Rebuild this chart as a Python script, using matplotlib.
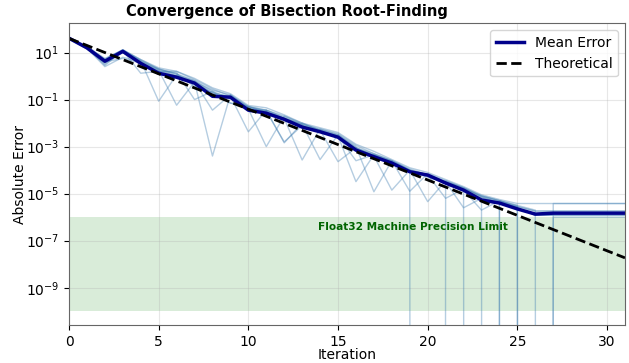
import numpy as np
import matplotlib.pyplot as plt

iters = np.arange(32)
Z = -np.inf  # error exactly zero in float32

# log10 of absolute error
mean_log = [1.61, 1.20, 0.63, 1.05, 0.54, 0.12, -0.05, -0.30, -0.86, -0.90, -1.45, -1.58,
            -1.84, -2.17, -2.37, -2.60, -3.15, -3.43, -3.70, -4.07, -4.21, -4.55, -4.85,
            -5.27, -5.40, -5.65, -5.87, -5.83, -5.83, -5.83, -5.83, -5.83]

runs_log = [
    [1.58, 1.15, 0.55, 1.00, 0.60, 0.30, 0.10, -0.45, -0.70, -1.15, -1.30, -1.50, -2.80, -2.10, -2.30, -2.55,
     -3.05, -3.40, -3.65, -4.00, Z, -4.50, -4.80, -5.15, -5.35, -5.60, -5.92, -5.92, -5.92, -5.92, -5.92, -5.92],
    [1.60, 1.22, 0.45, 1.08, 0.12, 0.20, 0.00, -0.25, -3.40, -0.80, -1.35, -1.55, -1.80, -2.05, -3.55, -2.50,
     -3.10, -3.35, -3.75, -4.05, -4.25, -4.50, -4.80, Z, -5.35, -5.55, -5.74, -5.74, -5.74, -5.74, -5.74, -5.74],
    [1.62, 1.20, 0.70, 1.12, 0.65, -1.07, 0.05, -0.20, -0.75, -0.85, -2.37, -1.45, -1.75, -2.10, -2.35, -2.55,
     -3.60, -3.35, -3.65, -4.05, -4.30, -4.55, -4.90, -5.20, Z, Z, Z, Z, Z, Z, Z, Z],
    [1.60, 1.25, 0.60, 0.75, 0.55, 0.25, -1.24, -0.25, -0.60, -0.80, -1.40, -3.00, -1.70, -2.00, -2.30, -3.64,
     -3.05, -3.40, -4.85, -4.00, -4.20, -4.50, -4.75, -5.15, -5.40, -5.55, Z, Z, Z, Z, Z, Z],
    [1.62, 1.18, 0.40, 0.80, 0.60, 0.20, 0.15, -1.00, -0.65, -0.95, -1.35, -1.50, -1.80, -3.57, -2.25, -2.50,
     -3.00, -4.92, -3.60, -4.00, -4.25, -4.50, -5.60, -5.20, -5.35, Z, Z, -5.42, -5.42, -5.42, -5.42, -5.42],
    [1.58, 1.22, 0.75, 1.10, 0.70, 0.30, 0.05, -0.25, -1.45, -0.80, -1.30, -1.45, -2.84, -2.00, -2.35, -2.55,
     -4.49, -3.35, -3.60, -4.00, -5.34, -4.45, -4.75, -5.10, -5.30, -5.50, -5.70, Z, Z, Z, Z, Z],
    [1.60, 1.20, 0.50, 1.05, 0.65, 0.30, 0.10, -0.20, -0.65, -1.15, -1.30, -1.55, -1.80, -2.05, -2.30, -2.50,
     -3.05, -3.30, -3.60, -3.95, -4.20, -5.20, -4.80, -5.10, -5.30, -5.50, Z, -6.00, -6.00, -6.00, -6.00, -6.00],
    [1.60, 1.25, 0.65, 1.00, 0.55, 0.20, 0.20, -0.15, -0.55, -0.85, -1.30, -1.45, -1.70, -2.05, -2.25, -2.45,
     -2.95, -3.30, -3.60, -4.90, -4.15, -4.45, -4.75, -5.10, -5.30, -5.60, -5.92, -5.92, -5.92, -5.92, -5.92, -5.92],
    [1.62, 1.20, 0.60, 1.10, 0.65, 0.25, 0.00, -0.30, -0.70, -0.90, -1.45, -1.45, -1.80, -2.15, -2.30, -2.60,
     -3.10, -3.35, -3.65, -4.00, -4.20, -4.50, -4.85, -5.70, -5.30, -5.55, -5.74, -5.74, -5.74, -5.74, -5.74, -5.74],
    [1.63, 1.28, 0.72, 1.12, 0.70, 0.35, 0.20, -0.10, -0.50, -0.75, -1.25, -1.35, -1.65, -2.00, -2.20, -2.40,
     -2.90, -3.20, -3.55, -3.90, -4.10, -4.40, -4.70, -5.05, -5.25, -5.42, -5.42, -5.42, -5.42, -5.42, -5.42, -5.42],
]

theo_x = [0, 31]
theo_y = [40.0, 1.86e-8]

fig = plt.figure(figsize=(6.29, 3.63), dpi=100)
ax = fig.add_axes([0.1097, 0.1047, 0.8839, 0.8311])

ax.axhspan(1e-10, 1e-6, color='green', alpha=0.15, lw=0)
ax.text(19.2, 4e-7, 'Float32 Machine Precision Limit', color='darkgreen', fontsize=7.6,
        fontweight='bold', ha='center', va='center')

for r in runs_log:
    ax.plot(iters, 10.0 ** np.array(r), color='steelblue', alpha=0.4, lw=1)

ax.plot(iters, 10.0 ** np.array(mean_log), color='darkblue', lw=2.5, label='Mean Error')
ax.plot(theo_x, theo_y, 'k--', lw=2, label='Theoretical')

ax.set_yscale('log')
ax.set_xlim(0, 31)
ax.set_ylim(2.6e-11, 175)
ax.grid(True, alpha=0.3)
for s in ax.spines.values():
    s.set_color('0.4')
ax.tick_params(labelsize=10)
fig.text(0.4563, 0.967, 'Convergence of Bisection Root-Finding', fontsize=10.5,
         fontweight='bold', ha='center', va='center')
ax.set_xlabel('Iteration', fontsize=10)
ax.xaxis.set_label_coords(0.5, -0.076)
ax.set_ylabel('Absolute Error', fontsize=10)
ax.yaxis.set_label_coords(-0.0755, 0.5)
ax.legend(loc='upper right', fontsize=10)

fig.savefig('out.png', dpi=100)
